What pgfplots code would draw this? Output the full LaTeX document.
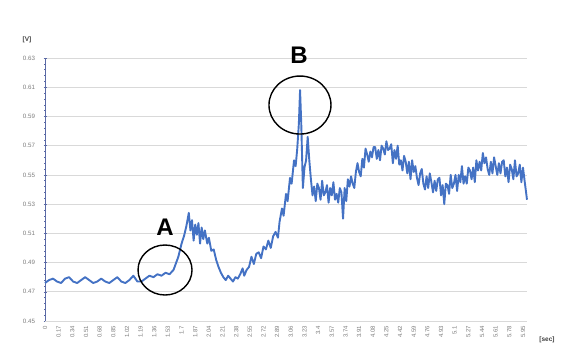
\documentclass[border=0pt]{standalone}
\usepackage{fontspec}
\setmainfont{Liberation Sans}
\usepackage{pgfplots}
\pgfplotsset{compat=1.18}
\definecolor{lineblue}{RGB}{68,114,196}
\definecolor{axblue}{RGB}{90,105,165}
\definecolor{gridgray}{RGB}{217,217,217}
\definecolor{lblgray}{RGB}{125,125,125}
\begin{document}
\begin{tikzpicture}
\path[use as bounding box] (0,0) rectangle (569pt,347pt);
\begin{axis}[
  at={(45pt,26pt)}, anchor=south west,
  scale only axis, width=482pt, height=263pt,
  xmin=0, xmax=6.0, ymin=0.45, ymax=0.63,
  clip=false,
  axis lines=left, axis line style={-},
  x axis line style={draw=gridgray, line width=0.6pt},
  y axis line style={draw=axblue, line width=0.9pt},
  ymajorgrids, grid style={draw=gridgray, line width=0.6pt},
  ytick={0.45,0.47,0.49,0.51,0.53,0.55,0.57,0.59,0.61,0.63},
  yticklabels={0.45,0.47,0.49,0.51,0.53,0.55,0.57,0.59,0.61,0.63},
  minor y tick num=4,
  ytick style={draw=axblue, line width=0.5pt},
  major tick length=3pt, minor tick length=2pt,
  xtick={0,0.17,0.34,0.51,0.68,0.85,1.02,1.19,1.36,1.53,1.7,1.87,2.04,2.21,2.38,2.55,2.72,2.89,3.06,3.23,3.4,3.57,3.74,3.91,4.08,4.25,4.42,4.59,4.76,4.93,5.1,5.27,5.44,5.61,5.78,5.95},
  xticklabels={0,0.17,0.34,0.51,0.68,0.85,1.02,1.19,1.36,1.53,1.7,1.87,2.04,2.21,2.38,2.55,2.72,2.89,3.06,3.23,3.4,3.57,3.74,3.91,4.08,4.25,4.42,4.59,4.76,4.93,5.1,5.27,5.44,5.61,5.78,5.95},
  xtick style={draw=none},
  xticklabel style={rotate=90, anchor=east, font=\fontsize{6}{6}\selectfont, text=lblgray},
  yticklabel style={font=\fontsize{6.2}{7}\selectfont, text=lblgray, xshift=-5pt},
]
\addplot[lineblue, line width=1.9pt, line join=round] coordinates {
(0,0.476)(0.05,0.478)(0.1,0.479)(0.15,0.477)(0.2,0.476)(0.25,0.479)(0.3,0.480)(0.35,0.477)
(0.4,0.476)(0.45,0.478)(0.5,0.480)(0.55,0.478)(0.6,0.476)(0.65,0.477)(0.7,0.479)(0.75,0.477)
(0.8,0.476)(0.85,0.478)(0.9,0.480)(0.95,0.477)(1.0,0.476)(1.05,0.478)(1.1,0.481)(1.15,0.477)
(1.2,0.477)(1.25,0.479)(1.3,0.481)(1.35,0.480)(1.4,0.482)(1.45,0.481)(1.5,0.483)(1.55,0.482)
(1.6,0.485)(1.62,0.488)(1.66,0.494)(1.7,0.503)(1.73,0.508)(1.76,0.515)(1.79,0.524)(1.81,0.512)
(1.83,0.519)(1.85,0.505)(1.87,0.516)(1.89,0.509)(1.91,0.517)(1.93,0.503)(1.95,0.514)(1.97,0.506)
(1.99,0.512)(2.02,0.503)(2.04,0.507)(2.07,0.498)(2.1,0.499)(2.13,0.492)(2.16,0.487)(2.19,0.483)
(2.22,0.480)(2.25,0.478)(2.28,0.481)(2.31,0.479)(2.34,0.477)(2.37,0.480)(2.4,0.479)(2.43,0.482)
(2.46,0.486)(2.48,0.481)(2.51,0.485)(2.54,0.487)(2.57,0.494)(2.6,0.489)(2.63,0.496)(2.66,0.497)
(2.69,0.493)(2.72,0.501)(2.75,0.499)(2.78,0.505)(2.81,0.500)(2.84,0.508)(2.87,0.511)(2.9,0.507)
(2.92,0.518)(2.95,0.527)(2.97,0.522)(3.0,0.537)(3.02,0.532)(3.05,0.548)(3.07,0.544)(3.1,0.560)
(3.12,0.556)(3.14,0.568)(3.16,0.585)(3.175,0.608)(3.19,0.585)(3.21,0.541)(3.23,0.555)(3.25,0.560)
(3.27,0.576)(3.29,0.560)
(3.31,0.547)(3.33,0.536)(3.35,0.542)(3.37,0.532)(3.39,0.544)(3.41,0.541)(3.43,0.533)(3.45,0.546)
(3.47,0.536)(3.49,0.538)(3.51,0.543)(3.53,0.531)(3.55,0.541)(3.57,0.536)(3.59,0.545)(3.61,0.533)
(3.63,0.537)(3.65,0.531)(3.67,0.541)(3.69,0.538)(3.71,0.520)(3.73,0.541)(3.75,0.532)(3.77,0.547)
(3.79,0.542)(3.81,0.549)(3.83,0.544)(3.85,0.541)(3.87,0.552)(3.89,0.558)(3.91,0.552)(3.93,0.549)
(3.95,0.561)(3.97,0.555)(3.99,0.568)(4.01,0.564)(4.03,0.559)(4.05,0.566)(4.07,0.562)(4.09,0.569)
(4.11,0.569)(4.13,0.561)(4.15,0.567)(4.17,0.560)(4.19,0.570)(4.21,0.568)(4.23,0.564)(4.25,0.573)
(4.27,0.567)(4.29,0.568)(4.31,0.571)(4.33,0.558)(4.35,0.567)(4.37,0.561)(4.39,0.570)(4.41,0.557)
(4.43,0.560)(4.45,0.553)(4.47,0.563)(4.49,0.559)(4.51,0.551)(4.53,0.559)(4.55,0.547)(4.57,0.560)
(4.59,0.552)(4.61,0.556)(4.63,0.548)(4.65,0.543)(4.67,0.551)(4.69,0.554)(4.71,0.544)(4.73,0.540)
(4.75,0.549)(4.77,0.541)(4.79,0.551)(4.81,0.545)(4.83,0.538)(4.85,0.546)(4.87,0.539)(4.89,0.547)
(4.91,0.548)(4.93,0.536)(4.95,0.543)(4.97,0.530)(4.99,0.544)(5.01,0.543)(5.03,0.537)(5.05,0.550)
(5.07,0.541)(5.09,0.544)(5.11,0.550)(5.13,0.539)(5.15,0.550)(5.17,0.545)(5.19,0.556)(5.21,0.544)
(5.23,0.549)(5.25,0.544)(5.27,0.555)(5.29,0.553)(5.31,0.547)(5.33,0.555)(5.35,0.545)(5.37,0.560)
(5.39,0.553)(5.41,0.559)(5.43,0.553)(5.45,0.565)(5.47,0.558)(5.49,0.562)(5.51,0.554)(5.53,0.550)
(5.55,0.559)(5.57,0.551)(5.59,0.562)(5.61,0.556)(5.63,0.550)(5.65,0.558)(5.67,0.551)(5.69,0.559)
(5.71,0.560)(5.73,0.549)(5.75,0.555)(5.77,0.545)(5.79,0.557)(5.81,0.554)(5.83,0.547)(5.85,0.560)
(5.87,0.549)(5.89,0.551)(5.91,0.557)(5.93,0.545)(5.95,0.555)(5.97,0.546)(6.0,0.533)
};
\draw[black, line width=1.4pt] (axis cs:1.494,0.4849) ellipse [x radius=27pt, y radius=25pt];
\draw[black, line width=1.4pt] (axis cs:3.174,0.5978) ellipse [x radius=31pt, y radius=29pt];
\node[font=\fontsize{24}{24}\selectfont\bfseries] at (axis cs:1.494,0.5143) {A};
\node[font=\fontsize{24}{24}\selectfont\bfseries] at (axis cs:3.162,0.632) {B};
\end{axis}
\node[font=\fontsize{6.5}{7}\selectfont\bfseries, text=black!75] at (27pt,307pt) {[V]};
\node[font=\fontsize{6.5}{7}\selectfont\bfseries, text=black!75] at (547pt,7pt) {[sec]};
\end{tikzpicture}
\end{document}
